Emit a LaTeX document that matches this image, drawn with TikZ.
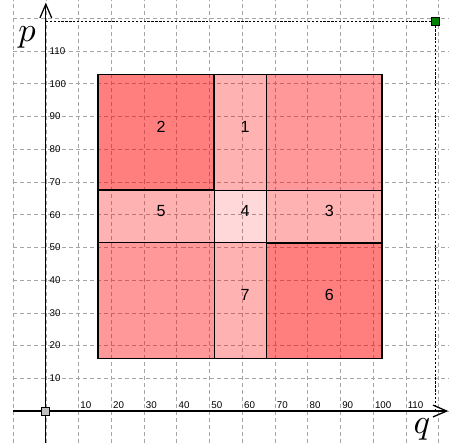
\documentclass[tikz,border=0pt]{standalone}
\usepackage{fontspec}
\setsansfont{Liberation Sans}
\usetikzlibrary{arrows.meta}
\definecolor{cred}  {RGB}{255,  0,  0}
\definecolor{ggrid} {RGB}{165,165,165}
\definecolor{pgrn}  {RGB}{  0,128,  0}
\definecolor{pgry}  {RGB}{192,192,192}
\tikzset{
  % Dashed background grid
  GG/.style={draw=ggrid,line width=0.5pt,dash pattern=on 3.5pt off 2.6pt},
  % Axes with open barbs
  Ax/.style={-{Straight Barb[length=4.2mm,width=3.6mm]},line width=1.1pt},
  % Dotted guide lines
  DL/.style={draw=black,line width=1.1pt,dash pattern=on 2pt off 1.4pt},
  % Cell of the partition
  CF/.style={fill=cred,fill opacity=#1,draw=black,line width=0.6pt},
  CF/.default=0.3,
  % Heavier cell outline
  CB/.style={draw=black,line width=1.3pt},
  % Square marks
  PT/.style={rectangle,draw=black,line width=0.8pt,minimum size=2.4mm,
             inner sep=0pt,fill=#1},
  % Tick labels
  TK/.style={font=\sffamily\fontsize{8.5}{10}\selectfont,inner sep=1.5pt},
  % Cell numbers
  NL/.style={font=\sffamily\fontsize{14}{16}\selectfont,inner sep=0pt},
  % Axis names
  AN/.style={scale=3,inner sep=0pt},
}

\begin{document}
\begin{tikzpicture}[x=1mm,y=1mm]
  \useasboundingbox (-14.0,-9.8) rectangle (123.2,125.6);
  \draw[GG] (-10,-9.8) grid[step=10] (123.2,125.6);
  % cells, column by column
  \filldraw[CF=0.40] (16,16)     rectangle (51.4,51.4);
  \filldraw[CF=0.30] (16,51.4)   rectangle (51.4,67.5);
  \filldraw[CF=0.50] (16,67.5)   rectangle (51.4,102.8);
  \filldraw[CF=0.30] (51.4,16)   rectangle (67.5,51.4);
  \filldraw[CF=0.15] (51.4,51.4) rectangle (67.5,67.5);
  \filldraw[CF=0.30] (51.4,67.5) rectangle (67.5,102.8);
  \filldraw[CF=0.50] (67.5,16)   rectangle (102.8,51.4);
  \filldraw[CF=0.30] (67.5,51.4) rectangle (102.8,67.5);
  \filldraw[CF=0.40] (67.5,67.5) rectangle (102.8,102.8);
  \draw[CB] (16,16) rectangle (102.8,102.8);
  \draw[CB] (16,67.5) rectangle (51.4,102.8);
  \draw[CB] (67.5,16) rectangle (102.8,51.4);
  % axes
  \draw[Ax] (-10,0) -- (123.0,0);
  \draw[Ax] (0,-9.8) -- (0,124.8);
  \foreach \t in {10,20,...,110} {
    \node[TK,anchor=south west] (xt\t) at (\t,0.3) {\t};
    \node[TK,anchor=west]       (yt\t) at (0.6,\t) {\t};
  }
  % points
  \node[PT=pgry] (org) at (0,0) {};
  \node[PT=pgrn] (gp) at (119,119) {};
  \draw[DL] (gp.center) -- (gp.center -| org.center);
  \draw[DL] (gp.center) -- (gp.center |- org.center);
  \node[PT=pgrn] at (gp) {};
  \node[AN] (lp) at (-5.7,114.3) {$p$};
  \node[AN] (lq) at (114.9,-5.6) {$q$};
  % cell numbers
  \node[NL] (c1) at (60.9,86.8) {1};
  \node[NL] (c2) at (35.2,86.8) {2};
  \node[NL] (c3) at (86.6,61.0) {3};
  \node[NL] (c4) at (60.9,61.0) {4};
  \node[NL] (c5) at (35.2,61.0) {5};
  \node[NL] (c6) at (86.6,35.5) {6};
  \node[NL] (c7) at (60.9,35.5) {7};
\end{tikzpicture}
\end{document}
